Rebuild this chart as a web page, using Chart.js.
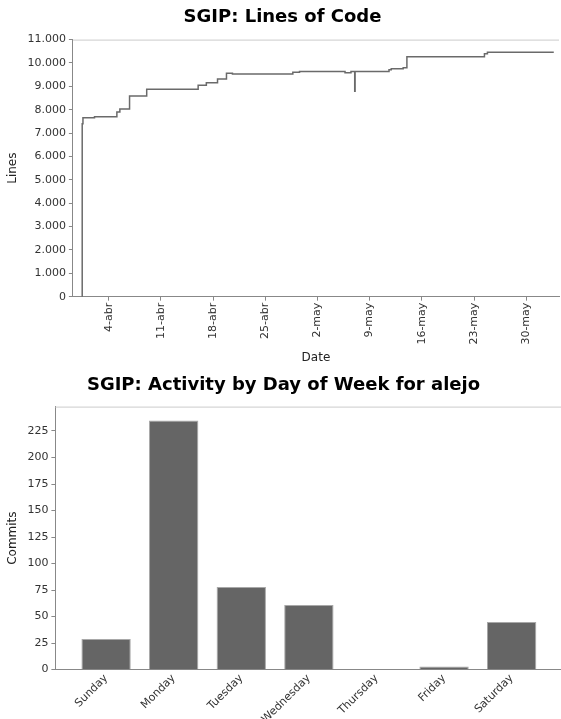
<!DOCTYPE html>
<html>
<head>
<meta charset="utf-8">
<script src="https://cdn.jsdelivr.net/npm/chart.js@4/dist/chart.umd.min.js"></script>
<style>
  body { margin: 0; background: #fff; overflow: hidden; }
  .box { position: relative; width: 561px; }
</style>
</head>
<body>
<div class="box" style="height:365px"><canvas id="locChart"></canvas></div>
<div class="box" style="height:365px"><canvas id="dowChart"></canvas></div>
<script>
// Lines of code: x = day (April day, May = 30 + day), y = lines
const locDays = [0.42, 0.45, 0.55, 2.1, 5.1, 5.5, 6.8, 9.1, 16.0, 17.1, 18.6, 19.8, 20.6,
                 28.7, 29.6, 35.7, 36.5, 37.0, 37.05, 41.6, 41.9, 43.5, 44.0, 54.4, 54.8, 63.7];
const locLines = [0, 7400, 7660, 7700, 7900, 8030, 8590, 8880, 9050, 9150, 9310, 9560, 9530,
                  9600, 9640, 9580, 9640, 8790, 9640, 9710, 9750, 9800, 10270, 10390, 10460, 10460];
const dateTicks = [4, 11, 18, 25, 32, 39, 46, 53, 60];
const dateTickLabels = ['4-abr', '11-abr', '18-abr', '25-abr', '2-may', '9-may', '16-may', '23-may', '30-may'];

// Activity by day of week
const weekDays = ['Sunday', 'Monday', 'Tuesday', 'Wednesday', 'Thursday', 'Friday', 'Saturday'];
const commits = [29, 235, 78, 61, 0, 3, 45];
const commitTicks = [0, 25, 50, 75, 100, 125, 150, 175, 200, 225];

const tickFont = { family: 'DejaVu Sans', size: 11 };
const titleFont = { family: 'DejaVu Sans', size: 18, weight: 'bold' };
const axisTitleFont = { family: 'DejaVu Sans', size: 12 };

const thousands = v => String(v).replace(/\B(?=(\d{3})+(?!\d))/g, '.');

// light outline along the top of the plot area
const plotTop = {
    id: 'plotTop',
    afterDraw(chart) {
        const { ctx, chartArea: a } = chart;
        ctx.save();
        ctx.strokeStyle = '#cccccc';
        ctx.lineWidth = 1;
        ctx.beginPath();
        ctx.moveTo(a.left, a.top + 0.5);
        ctx.lineTo(a.right, a.top + 0.5);
        ctx.stroke();
        ctx.restore();
    }
};

const axisGrid = { drawOnChartArea: false, drawTicks: true, tickLength: 4, color: '#888' };
const axisBorder = { display: true, color: '#888' };

new Chart(document.getElementById('locChart'), {
    type: 'line',
    data: {
        datasets: [{
            data: locDays.map((d, i) => ({ x: d, y: locLines[i] })),
            borderColor: '#6a6a6a',
            borderWidth: 1.5,
            stepped: 'before',
            pointRadius: 0,
            fill: false
        }]
    },
    options: {
        responsive: true,
        maintainAspectRatio: false,
        animation: false,
        layout: { padding: { left: 6, right: 2, top: 2, bottom: 0 } },
        plugins: {
            legend: { display: false },
            tooltip: { enabled: false },
            title: {
                display: true,
                text: 'SGIP: Lines of Code',
                color: '#000',
                font: titleFont,
                padding: { top: 5, bottom: 11 }
            }
        },
        scales: {
            x: {
                type: 'linear',
                min: -0.8,
                max: 64.4,
                afterBuildTicks: axis => { axis.ticks = dateTicks.map(v => ({ value: v })); },
                ticks: {
                    color: '#333',
                    font: tickFont,
                    minRotation: 90,
                    maxRotation: 90,
                    padding: 2,
                    callback: v => dateTickLabels[dateTicks.indexOf(v)]
                },
                grid: axisGrid,
                border: axisBorder,
                title: { display: true, text: 'Date', color: '#222', font: axisTitleFont, padding: { top: 4, bottom: 0 } }
            },
            y: {
                min: 0,
                max: 11000,
                ticks: { stepSize: 1000, color: '#333', font: tickFont, padding: 3, callback: v => thousands(v) },
                grid: axisGrid,
                border: axisBorder,
                title: { display: true, text: 'Lines', color: '#222', font: axisTitleFont, padding: { top: 0, bottom: 4 } }
            }
        }
    },
    plugins: [plotTop]
});

new Chart(document.getElementById('dowChart'), {
    type: 'bar',
    data: {
        datasets: [{
            data: commits.map((c, i) => ({ x: i, y: c })),
            backgroundColor: '#656565',
            borderColor: '#a8a8a8',
            borderWidth: 1,
            barPercentage: 0.73,
            categoryPercentage: 1
        }]
    },
    options: {
        responsive: true,
        maintainAspectRatio: false,
        animation: false,
        layout: { padding: { left: 6, right: 0, top: 2, bottom: 2 } },
        plugins: {
            legend: { display: false },
            tooltip: { enabled: false },
            title: {
                display: true,
                text: 'SGIP: Activity by Day of Week for alejo',
                color: '#000',
                font: titleFont,
                padding: { top: 8, bottom: 10 }
            }
        },
        scales: {
            x: {
                type: 'linear',
                offset: false,
                min: -0.75,
                max: 6.73,
                afterBuildTicks: axis => { axis.ticks = weekDays.map((d, i) => ({ value: i })); },
                ticks: {
                    color: '#333',
                    font: tickFont,
                    minRotation: 45,
                    maxRotation: 45,
                    padding: 2,
                    callback: v => weekDays[v]
                },
                grid: { offset: false, drawOnChartArea: false, drawTicks: false },
                border: axisBorder
            },
            y: {
                min: 0,
                max: 248,
                afterBuildTicks: axis => { axis.ticks = commitTicks.map(v => ({ value: v })); },
                ticks: { color: '#333', font: tickFont, padding: 3 },
                grid: axisGrid,
                border: axisBorder,
                title: { display: true, text: 'Commits', color: '#222', font: axisTitleFont, padding: { top: 0, bottom: 4 } }
            }
        }
    },
    plugins: [plotTop]
});
</script>
</body>
</html>
